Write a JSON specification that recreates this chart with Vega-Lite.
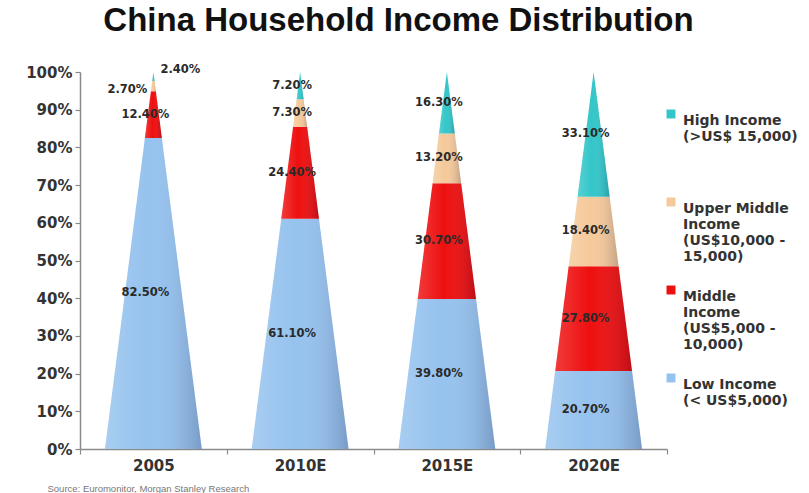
{
  "$schema": "https://vega.github.io/schema/vega-lite/v6.json",
  "width": 587,
  "height": 377,
  "autosize": {"type": "none"},
  "padding": {"left": 80, "top": 72, "right": 142, "bottom": 44},
  "background": "white",
  "title": {
    "text": "China Household Income Distribution",
    "font": "Liberation Sans",
    "fontSize": 33,
    "fontWeight": "bold",
    "color": "#111111",
    "anchor": "middle",
    "offset": 26,
    "dx": 25
  },
  "data": {
    "values": [
      {"year": "2005", "segment": "Low Income", "value": 82.5},
      {"year": "2005", "segment": "Middle Income", "value": 12.4},
      {"year": "2005", "segment": "Upper Middle Income", "value": 2.7},
      {"year": "2005", "segment": "High Income", "value": 2.4},
      {"year": "2010E", "segment": "Low Income", "value": 61.1},
      {"year": "2010E", "segment": "Middle Income", "value": 24.4},
      {"year": "2010E", "segment": "Upper Middle Income", "value": 7.3},
      {"year": "2010E", "segment": "High Income", "value": 7.2},
      {"year": "2015E", "segment": "Low Income", "value": 39.8},
      {"year": "2015E", "segment": "Middle Income", "value": 30.7},
      {"year": "2015E", "segment": "Upper Middle Income", "value": 13.2},
      {"year": "2015E", "segment": "High Income", "value": 16.3},
      {"year": "2020E", "segment": "Low Income", "value": 20.7},
      {"year": "2020E", "segment": "Middle Income", "value": 27.8},
      {"year": "2020E", "segment": "Upper Middle Income", "value": 18.4},
      {"year": "2020E", "segment": "High Income", "value": 33.1}
    ]
  },
  "transform": [
    {"window": [{"op": "row_number", "as": "sorder"}], "groupby": ["year"]},
    {"window": [{"op": "dense_rank", "as": "idx"}], "sort": [{"field": "year", "order": "ascending"}]},
    {"stack": "value", "groupby": ["year"], "sort": [{"field": "sorder", "order": "ascending"}], "as": ["lo", "hi"]}
  ],
  "layer": [
    {
      "transform": [
        {"fold": ["lo", "hi"], "as": ["edge", "pos"]},
        {"calculate": "0.33 * (1 - datum.pos / 100)", "as": "hw"},
        {"calculate": "datum.idx - datum.hw", "as": "xl"},
        {"calculate": "datum.idx + datum.hw", "as": "xr"}
      ],
      "layer": [
        {
          "mark": {"type": "area", "orient": "horizontal"},
          "encoding": {
            "y": {
              "field": "pos", "type": "quantitative",
              "scale": {"domain": [0, 100], "nice": false},
              "axis": {
                "title": null,
                "values": [0, 10, 20, 30, 40, 50, 60, 70, 80, 90, 100],
                "labelExpr": "datum.value + '%'",
                "labelOverlap": false,
                "grid": false
              }
            },
            "x": {
              "field": "xl", "type": "quantitative", "stack": null,
              "scale": {"domain": [0.5, 4.5], "nice": false, "zero": false},
              "axis": null
            },
            "x2": {"field": "xr"},
            "color": {
              "field": "segment", "type": "nominal",
              "scale": {
                "domain": ["High Income", "Upper Middle Income", "Middle Income", "Low Income"],
                "range": ["#33c6c9", "#f5c99a", "#ee0f0f", "#95c2ee"]
              },
              "legend": {
                "title": null,
                "orient": "none",
                "legendX": 584,
                "legendY": 35,
                "padding": 0,
                "symbolType": "square",
                "symbolSize": 80,
                "symbolStrokeWidth": 0,
                "labelFont": "DejaVu Sans",
                "labelFontSize": 14,
                "labelFontWeight": "bold",
                "labelColor": "#333333",
                "labelOffset": 5,
                "labelLimit": 300,
                "labelBaseline": "top",
                "rowPadding": 19,
                "labelExpr": "datum.label == 'High Income' ? ['High Income', '(>US$ 15,000)', '', ''] : datum.label == 'Upper Middle Income' ? ['Upper Middle', 'Income', '(US$10,000 -', '15,000)'] : datum.label == 'Middle Income' ? ['Middle', 'Income', '(US$5,000 -', '10,000)'] : ['Low Income', '(< US$5,000)', '', '']"
              }
            },
            "detail": {"field": "year"}
          }
        },
        {
          "mark": {
            "type": "area",
            "orient": "horizontal",
            "color": {
              "gradient": "linear",
              "x1": 0, "x2": 1, "y1": 0, "y2": 0,
              "stops": [
                {"offset": 0, "color": "rgba(255,255,255,0.18)"},
                {"offset": 0.45, "color": "rgba(255,255,255,0)"},
                {"offset": 1, "color": "rgba(0,0,40,0.2)"}
              ]
            }
          },
          "encoding": {
            "y": {
              "field": "pos", "type": "quantitative",
              "scale": {"domain": [0, 100], "nice": false},
              "axis": {
                "title": null,
                "values": [0, 10, 20, 30, 40, 50, 60, 70, 80, 90, 100],
                "labelExpr": "datum.value + '%'",
                "labelOverlap": false,
                "grid": false
              }
            },
            "x": {
              "field": "xl", "type": "quantitative", "stack": null,
              "scale": {"domain": [0.5, 4.5], "nice": false, "zero": false},
              "axis": null
            },
            "x2": {"field": "xr"},
            "detail": [{"field": "year"}, {"field": "segment"}]
          }
        }
      ]
    },
    {
      "transform": [
        {"calculate": "(datum.lo + datum.hi) / 2", "as": "mid"},
        {"calculate": "format(datum.value, '.2f') + '%'", "as": "label"}
      ],
      "encoding": {
        "x": {
          "field": "year", "type": "nominal", "sort": "ascending",
          "scale": {"type": "band", "paddingInner": 0, "paddingOuter": 0},
          "axis": {
            "title": "Source: Euromonitor, Morgan Stanley Research",
            "titleFont": "Liberation Sans",
            "titleFontSize": 9.5,
            "titleFontWeight": "normal",
            "titleColor": "#777777",
            "titleAnchor": "start",
            "titleAlign": "left",
            "titleX": -33,
            "titleY": 39,
            "titleBaseline": "middle",
            "labelAngle": 0,
            "tickBand": "extent",
            "labelPadding": 4
          }
        },
        "y": {
          "field": "mid", "type": "quantitative",
          "scale": {"domain": [0, 100], "nice": false},
          "axis": {
            "title": null,
            "values": [0, 10, 20, 30, 40, 50, 60, 70, 80, 90, 100],
            "labelExpr": "datum.value + '%'",
            "labelOverlap": false,
            "grid": false
          }
        },
        "text": {"field": "label"}
      },
      "layer": [
        {
          "transform": [{"filter": "!(datum.year == '2005' && (datum.segment == 'Upper Middle Income' || datum.segment == 'High Income'))"}],
          "mark": {"type": "text", "font": "DejaVu Sans", "fontSize": 11.5, "fontWeight": "bold", "color": "#2a2a2a", "dx": -8}
        },
        {
          "transform": [{"filter": "datum.year == '2005' && datum.segment == 'Upper Middle Income'"}],
          "mark": {"type": "text", "font": "DejaVu Sans", "fontSize": 11.5, "fontWeight": "bold", "color": "#2a2a2a", "dx": -26, "dy": 4}
        },
        {
          "transform": [{"filter": "datum.year == '2005' && datum.segment == 'High Income'"}],
          "mark": {"type": "text", "font": "DejaVu Sans", "fontSize": 11.5, "fontWeight": "bold", "color": "#2a2a2a", "dx": 27, "dy": -7}
        }
      ]
    }
  ],
  "resolve": {"scale": {"x": "independent"}, "axis": {"x": "independent"}},
  "config": {
    "view": {"stroke": null},
    "axis": {
      "labelFont": "DejaVu Sans",
      "labelFontWeight": "bold",
      "labelColor": "#333333",
      "domainColor": "#8a8a8a",
      "domainWidth": 1.5,
      "tickColor": "#8a8a8a",
      "tickWidth": 1.2,
      "tickSize": 5
    },
    "axisY": {"labelFontSize": 15, "labelPadding": 3},
    "axisX": {"labelFontSize": 15}
  }
}
